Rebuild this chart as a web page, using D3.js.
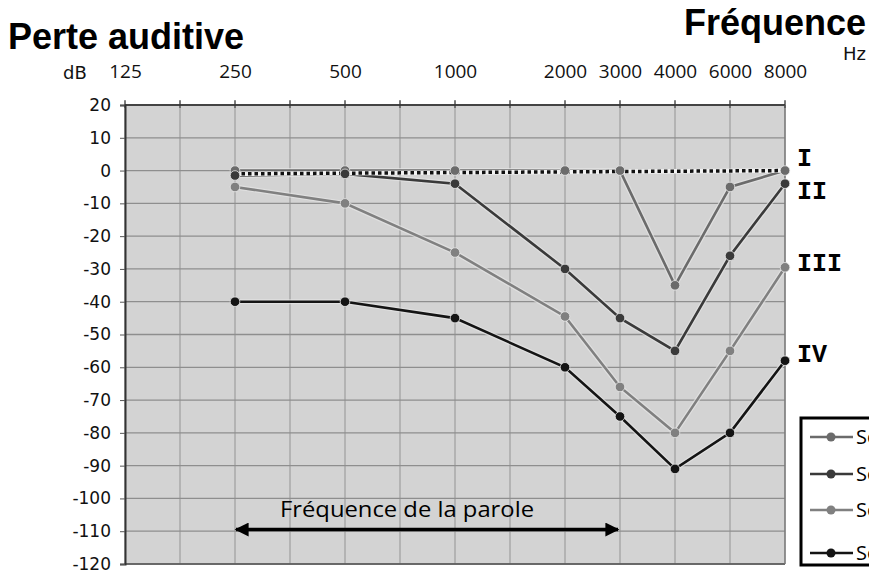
<!DOCTYPE html>
<html>
<head>
<meta charset="utf-8">
<script src="https://cdn.jsdelivr.net/npm/d3@7"></script>
<style>
body { margin: 0; background: #fff; }
svg { display: block; }
.y-axis text, .x-axis text { font-family: "Open Sans", sans-serif; fill: #111; }
</style>
</head>
<body>
<svg></svg>
<script>
// grille en demi-octaves : toutes les colonnes, puis les seules etiquetees
let slots = ["125", "177", "250", "354", "500", "707", "1000", "1414", "2000", "3000", "4000", "6000", "8000"];
let freqLabels = ["125", "250", "500", "1000", "2000", "3000", "4000", "6000", "8000"];
let dbTicks = [20, 10, 0, -10, -20, -30, -40, -50, -60, -70, -80, -90, -100, -110, -120];

// frequences mesurees et pertes (dB)
let freqs = ["250", "500", "1000", "2000", "3000", "4000", "6000", "8000"];
let serie1 = [0, 0, 0, 0, 0, -35, -5, 0];
let serie2 = [-1.5, -1, -4, -30, -45, -55, -26, -4];
let serie3 = [-5, -10, -25, -44.5, -66, -80, -55, -29.5];
let serie4 = [-40, -40, -45, -60, -75, -91, -80, -58];
let seriesNames = ["Série 1", "Série 2", "Série 3", "Série 4"];
let romans = ["I", "II", "III", "IV"];

// ligne pointillee (audition normale)
let refFreqs = ["250", "8000"];
let refValues = [-1, 0];

// fleche "frequence de la parole"
let speechFreqs = ["250", "3000"];
let speechLevel = -109.5;

let colors = ["#6b6b6b", "#3a3a3a", "#808080", "#141414"];
let allSeries = [serie1, serie2, serie3, serie4];

let width = 869, height = 573;
let plotLeft = 125, plotRight = 785, plotTop = 105, plotBottom = 564;

let svg = d3.select("svg").attr("width", width).attr("height", height);

let x = d3.scalePoint().domain(slots).range([plotLeft, plotRight]).padding(0);
let y = d3.scaleLinear().domain([-120, 20]).range([plotBottom, plotTop]);

// fond
svg.append("rect")
    .attr("x", plotLeft).attr("y", plotTop)
    .attr("width", plotRight - plotLeft).attr("height", plotBottom - plotTop)
    .attr("fill", "#d3d3d3");

// grille verticale
svg.append("g")
    .selectAll("line")
    .data(slots)
    .enter().append("line")
    .attr("x1", d => x(d)).attr("x2", d => x(d))
    .attr("y1", plotTop - 4).attr("y2", plotBottom)
    .attr("stroke", "#9e9e9e").attr("stroke-width", 1.2);

// grille horizontale
svg.append("g")
    .selectAll("line")
    .data(dbTicks)
    .enter().append("line")
    .attr("x1", plotLeft).attr("x2", plotRight)
    .attr("y1", d => y(d)).attr("y2", d => y(d))
    .attr("stroke", "#8e8e8e").attr("stroke-width", 1.3);

// bords
svg.append("line").attr("x1", plotLeft).attr("x2", plotRight).attr("y1", plotTop).attr("y2", plotTop)
    .attr("stroke", "#444").attr("stroke-width", 1.8);
svg.append("line").attr("x1", plotLeft).attr("x2", plotRight).attr("y1", plotBottom).attr("y2", plotBottom)
    .attr("stroke", "#555").attr("stroke-width", 1.5);
svg.append("line").attr("x1", plotRight).attr("x2", plotRight).attr("y1", plotTop).attr("y2", plotBottom)
    .attr("stroke", "#777").attr("stroke-width", 1.3);

// axe OY
let axisY = d3.axisLeft(y).tickValues(dbTicks).tickSize(5).tickPadding(9)
    .tickFormat(d => String(d));
let gy = svg.append("g")
    .attr("class", "y-axis")
    .attr("transform", `translate(${plotLeft}, 0)`)
    .call(axisY);
gy.select(".domain").attr("stroke", "#333").attr("stroke-width", 2);
gy.selectAll(".tick line").attr("stroke", "#555");
gy.selectAll("text").style("font-size", "17px").style("font-family", "DejaVu Sans, sans-serif");

// axe OX en haut
let axisX = d3.axisTop(x).tickValues(freqLabels).tickSize(0).tickPadding(27);
let gx = svg.append("g")
    .attr("class", "x-axis")
    .attr("transform", `translate(0, ${plotTop})`)
    .call(axisX);
gx.select(".domain").remove();
gx.selectAll("text").style("font-size", "19px");

// petites graduations en haut
svg.append("g")
    .selectAll("line")
    .data(slots)
    .enter().append("line")
    .attr("x1", d => x(d)).attr("x2", d => x(d))
    .attr("y1", plotTop - 5).attr("y2", plotTop + 3)
    .attr("stroke", "#333").attr("stroke-width", 1);

// titres
svg.append("text").attr("x", 8).attr("y", 49)
    .style("font-family", "Liberation Sans, Arial, sans-serif")
    .style("font-weight", "bold").style("font-size", "36px")
    .text("Perte auditive");
svg.append("text").attr("x", 866).attr("y", 35).attr("text-anchor", "end")
    .style("font-family", "Liberation Sans, Arial, sans-serif")
    .style("font-weight", "bold").style("font-size", "36px")
    .text("Fréquence");
svg.append("text").attr("x", 866).attr("y", 60).attr("text-anchor", "end")
    .style("font-family", "DejaVu Sans, sans-serif")
    .style("font-size", "18px").attr("fill", "#111")
    .text("Hz");
svg.append("text").attr("x", 63).attr("y", 79)
    .style("font-family", "DejaVu Sans, sans-serif")
    .style("font-size", "18px").attr("fill", "#111")
    .text("dB");

// courbes (traits d'abord, puis pointilles, puis points)
let line = d3.line().x(d => x(d.f)).y(d => y(d.v));
let seriesPts = allSeries.map(values => freqs.map((f, j) => ({ f: f, v: values[j] })));
seriesPts.forEach(function (pts, i) {
    svg.append("path").datum(pts).attr("d", line)
        .attr("fill", "none").attr("stroke", "#e6e6e6").attr("stroke-opacity", 0.7)
        .attr("stroke-width", 5);
    svg.append("path").datum(pts).attr("d", line)
        .attr("fill", "none").attr("stroke", colors[i]).attr("stroke-width", 2.6);
});

// ligne pointillee
let refData = refFreqs.map((f, i) => ({ f: f, v: refValues[i] }));
svg.append("path").datum(refData).attr("d", line)
    .attr("fill", "none").attr("stroke", "#f2f2f2").attr("stroke-width", 4.5);
svg.append("path").datum(refData).attr("d", line)
    .attr("fill", "none").attr("stroke", "#111").attr("stroke-width", 3.5)
    .attr("stroke-dasharray", "3.5,3");

seriesPts.forEach(function (pts, i) {
    svg.append("g")
        .selectAll("circle")
        .data(pts)
        .enter().append("circle")
        .attr("cx", d => x(d.f)).attr("cy", d => y(d.v))
        .attr("r", 4.8)
        .attr("fill", colors[i])
        .attr("stroke", "#e8e8e8").attr("stroke-width", 0.8);
});

// chiffres romains
let romanY = [166, 199, 271, 362];
romans.forEach(function (r, i) {
    svg.append("text").attr("x", 797).attr("y", romanY[i])
        .style("font-family", "Liberation Mono, Courier New, monospace")
        .style("font-weight", "bold").style("font-size", "25px")
        .text(r);
});

// fleche de la parole
let defs = svg.append("defs");
defs.append("marker").attr("id", "arrowEnd")
    .attr("viewBox", "0 0 10 10").attr("refX", 9).attr("refY", 5)
    .attr("markerWidth", 4.5).attr("markerHeight", 4)
    .attr("markerUnits", "strokeWidth").attr("orient", "auto")
    .append("path").attr("d", "M0,0 L10,5 L0,10 z").attr("fill", "#000");
defs.append("marker").attr("id", "arrowStart")
    .attr("viewBox", "0 0 10 10").attr("refX", 1).attr("refY", 5)
    .attr("markerWidth", 4.5).attr("markerHeight", 4)
    .attr("markerUnits", "strokeWidth").attr("orient", "auto")
    .append("path").attr("d", "M10,0 L0,5 L10,10 z").attr("fill", "#000");
svg.append("line")
    .attr("x1", x(speechFreqs[0]) + 1).attr("x2", x(speechFreqs[1]) - 2)
    .attr("y1", y(speechLevel)).attr("y2", y(speechLevel))
    .attr("stroke", "#000").attr("stroke-width", 3.5)
    .attr("marker-start", "url(#arrowStart)").attr("marker-end", "url(#arrowEnd)");
svg.append("text")
    .attr("x", 407)
    .attr("y", y(speechLevel) - 13)
    .attr("text-anchor", "middle")
    .style("font-family", "Open Sans, sans-serif").style("font-size", "22px")
    .attr("textLength", 254).attr("lengthAdjust", "spacingAndGlyphs")
    .text("Fréquence de la parole");

// legende
let legend = svg.append("g");
legend.append("rect").attr("x", 801).attr("y", 418).attr("width", 120).attr("height", 147)
    .attr("fill", "#fff").attr("stroke", "#000").attr("stroke-width", 3);
let legY = [437, 474, 510, 553];
seriesNames.forEach(function (name, i) {
    legend.append("line").attr("x1", 810).attr("x2", 853).attr("y1", legY[i]).attr("y2", legY[i])
        .attr("stroke", colors[i]).attr("stroke-width", 2.6);
    legend.append("circle").attr("cx", 831).attr("cy", legY[i]).attr("r", 4.5).attr("fill", colors[i]);
    legend.append("text").attr("x", 856).attr("y", legY[i] + 7)
        .style("font-family", "Open Sans, sans-serif").style("font-size", "20px")
        .text(name);
});
</script>
</body>
</html>
